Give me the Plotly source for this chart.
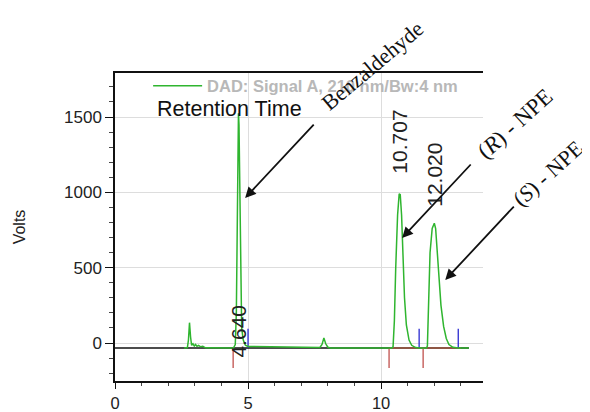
import plotly.graph_objects as go

# ---- data ----
sig_t = [2.60, 2.72, 2.76, 2.80, 2.84, 2.88, 2.93, 2.98, 3.03, 3.08, 3.14, 3.22, 3.30, 3.40, 4.45,
         4.52, 4.56, 4.59, 4.62, 4.64, 4.66, 4.69, 4.72, 4.76, 4.82, 4.90, 5.00, 6.00, 7.00, 7.50,
         7.70, 7.78, 7.85, 7.92, 8.00, 8.10, 10.40,
         10.45, 10.50, 10.55, 10.62, 10.68, 10.72, 10.77, 10.83, 10.88, 10.95, 11.05, 11.15, 11.30, 11.45,
         11.70, 11.74, 11.78, 11.84, 11.92, 12.00, 12.05, 12.12, 12.18, 12.25, 12.35, 12.45, 12.55, 12.70, 12.90, 13.30]
sig_v = [-33, -30, 20, 135, 40, -15, -5, -20, -10, -22, -15, -25, -22, -32, -33,
         -10, 200, 900, 1480, 1525, 1450, 900, 350, 100, 20, -15, -23, -25, -27, -30,
         -30, -10, 33, -5, -28, -33, -33,
         -25, 150, 500, 850, 990, 985, 850, 550, 300, 120, 20, -15, -30, -33,
         -33, -20, 300, 600, 760, 795, 760, 600, 420, 250, 110, 30, -10, -28, -33, -33]

baseline_t = [0.0, 13.3]
baseline_v = [-33, -33]
peak_baseline_t = [10.33, 13.0]

peak_rt = [4.640, 10.707, 12.020]
peak_rt_labels = ["4.640", "10.707", "12.020"]
start_marks = [4.44, 10.30, 11.58]
end_marks = [5.00, 11.43, 12.90]

x_ticks = [0, 5, 10]
y_ticks = [0, 500, 1000, 1500]

signal_name = "DAD: Signal A, 210 nm/Bw:4 nm"

# ---- figure ----
fig = go.Figure()

fig.add_trace(go.Scatter(x=baseline_t, y=baseline_v, mode="lines",
                         line=dict(color="#111111", width=1.5), showlegend=False, hoverinfo="skip"))
fig.add_trace(go.Scatter(x=peak_baseline_t, y=[baseline_v[0]] * 2, mode="lines",
                         line=dict(color="#d0603c", width=1.2), showlegend=False, hoverinfo="skip"))

rx, ry = [], []
for t in start_marks:
    rx += [t, t, None]
    ry += [baseline_v[0], -165, None]
fig.add_trace(go.Scatter(x=rx, y=ry, mode="lines", line=dict(color="#c0504d", width=1.3),
                         showlegend=False, hoverinfo="skip"))
bx, by = [], []
for t in end_marks:
    bx += [t, t, None]
    by += [baseline_v[0], 95, None]
fig.add_trace(go.Scatter(x=bx, y=by, mode="lines", line=dict(color="#2a2ad0", width=1.3),
                         showlegend=False, hoverinfo="skip"))

fig.add_trace(go.Scatter(x=sig_t, y=sig_v, mode="lines", name=signal_name,
                         line=dict(color="#2fb52f", width=1.5)))

# retention time labels
label_y = [-110, 1110, 890]
for rt, lab, ly in zip(peak_rt, peak_rt_labels, label_y):
    fig.add_annotation(x=rt, y=ly, text=lab, textangle=-90, showarrow=False,
                       xanchor="center", yanchor="bottom",
                       font=dict(family="Liberation Sans, Arial", size=21, color="#222222"))

# compound arrows
arrow_heads = [(4.89, 962), (10.79, 697), (12.41, 418)]
for hx, hy in arrow_heads:
    fig.add_annotation(x=hx, y=hy, text="", showarrow=True, ax=70, ay=-75,
                       arrowhead=2, arrowsize=1.2, arrowwidth=1.8, arrowcolor="#111111", standoff=0)

serif = dict(family="Liberation Serif, Times New Roman", size=23, color="#111111")
fig.add_annotation(xref="paper", yref="paper", x=0.70, y=1.025, text="Benzaldehyde",
                   textangle=-40, showarrow=False, xanchor="center", yanchor="middle",
                   font=dict(serif, size=22))
fig.add_annotation(xref="paper", yref="paper", x=1.088, y=0.836, text="(<i>R</i>) - NPE",
                   textangle=-42, showarrow=False, xanchor="center", yanchor="middle", font=serif)
fig.add_annotation(xref="paper", yref="paper", x=1.176, y=0.675, text="(<i>S</i>) - NPE",
                   textangle=-42, showarrow=False, xanchor="center", yanchor="middle",
                   font=dict(serif, size=22))

fig.add_annotation(xref="paper", yref="paper", x=0.108, y=0.883, text="Retention Time",
                   showarrow=False, xanchor="left", yanchor="middle",
                   font=dict(family="Liberation Sans, Arial", size=21.5, color="#111111"))

# page body has an 8px margin, so the plot area is placed 8px up/left to land where the reference has it
fig.update_layout(
    width=590, height=412,
    margin=dict(l=107, r=115, t=65, b=39),
    paper_bgcolor="white", plot_bgcolor="white",
    showlegend=True,
    legend=dict(x=0.09, y=0.958, xanchor="left", yanchor="middle", bgcolor="rgba(0,0,0,0)",
                font=dict(family="Liberation Sans, Arial", size=16.5, color="#b8b8b8", weight="bold"),
                itemwidth=49),
    xaxis=dict(range=[0, 13.83], tickvals=x_ticks, showline=True, linecolor="#111111", linewidth=1.5,
               mirror=True, ticks="outside", ticklen=6, tickcolor="#111111", automargin=False,
               showgrid=True, gridcolor="#dddddd", gridwidth=1, zeroline=False,
               minor=dict(dtick=1, ticks="outside", ticklen=3, tickcolor="#444444", showgrid=False),
               tickfont=dict(family="Liberation Sans, Arial", size=16.5, color="#222222")),
    yaxis=dict(range=[-252, 1792], tickvals=y_ticks, showline=True, linecolor="#111111", linewidth=1.5,
               ticks="outside", ticklen=8, tickcolor="#111111", automargin=False,
               showgrid=True, gridcolor="#dddddd", gridwidth=1, zeroline=False,
               minor=dict(dtick=100, ticks="outside", ticklen=4, tickcolor="#444444", showgrid=False),
               tickfont=dict(family="Liberation Sans, Arial", size=17, color="#222222"),
               title=dict(text="Volts", standoff=34,
                          font=dict(family="Liberation Sans, Arial", size=16, color="#222222"))),
)

fig.write_html("out.html")
